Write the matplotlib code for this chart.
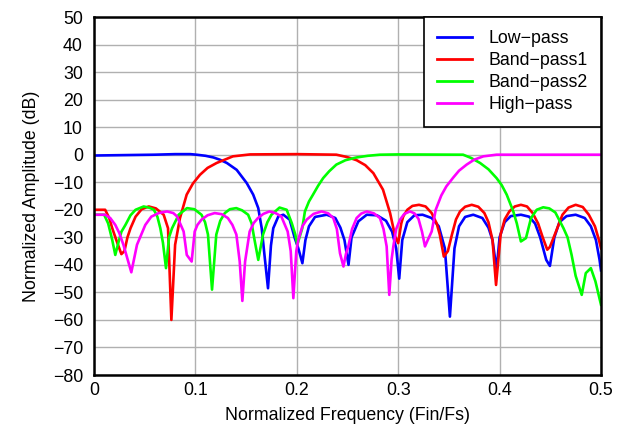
import matplotlib
matplotlib.use("Agg")
import matplotlib.pyplot as plt

plt.rcParams['font.family'] = ['Liberation Sans', 'DejaVu Sans']
plt.rcParams['axes.unicode_minus'] = True

# ---- data ----
low_x = [0, 0.02, 0.04, 0.06, 0.08, 0.095, 0.101, 0.11, 0.1177, 0.124, 0.131, 0.1407, 0.1506,
         0.157, 0.162, 0.1654, 0.168, 0.1716, 0.1745, 0.1768, 0.1818, 0.1867, 0.193, 0.198,
         0.2015, 0.2055, 0.2085, 0.212, 0.218, 0.2295, 0.238, 0.243, 0.247, 0.251, 0.254,
         0.2607, 0.269, 0.279, 0.288, 0.294, 0.298, 0.301, 0.304, 0.309, 0.316, 0.324, 0.333,
         0.340, 0.346, 0.351, 0.3555, 0.360, 0.366, 0.374, 0.383, 0.389, 0.393, 0.397, 0.400,
         0.405, 0.411, 0.421, 0.429, 0.435, 0.440, 0.446, 0.4496, 0.454, 0.459, 0.466, 0.475,
         0.484, 0.490, 0.495, 0.4985, 0.5]
low_y = [-0.3, -0.2, -0.1, 0.0, 0.2, 0.2, 0.0, -0.4, -1.0, -1.8, -3.0, -5.5, -10.3,
         -14.5, -19.4, -26.7, -36.0, -48.5, -33.0, -26.7, -22.4, -21.8, -23.6, -30.3,
         -34.0, -39.4, -31.0, -26.0, -22.6, -21.8, -23.0, -26.5, -31.0, -40.0, -30.0,
         -24.2, -21.8, -22.0, -24.0, -28.0, -34.0, -45.0, -31.0, -24.5, -22.0, -21.8, -23.0,
         -26.0, -34.0, -58.8, -34.0, -26.0, -22.6, -21.8, -23.0, -26.5, -31.0, -41.8, -30.0,
         -24.5, -22.3, -21.8, -22.5, -25.0, -30.0, -38.2, -40.4, -30.0, -24.5, -22.3, -21.8,
         -23.0, -26.0, -31.0, -38.0, -42.0]

bp1_x = [0, 0.011, 0.015, 0.018, 0.022, 0.027, 0.030, 0.033, 0.036, 0.041, 0.047, 0.054,
         0.061, 0.0687, 0.073, 0.0763, 0.080, 0.0848, 0.0914, 0.0975, 0.1045, 0.112, 0.121,
         0.137, 0.154, 0.2, 0.239, 0.249, 0.259, 0.2675, 0.2755, 0.285, 0.292, 0.297, 0.300,
         0.303, 0.305, 0.309, 0.314, 0.3205, 0.327, 0.333, 0.338, 0.341, 0.345, 0.349, 0.353,
         0.357, 0.361, 0.366, 0.3725, 0.379, 0.385, 0.389, 0.393, 0.3965, 0.401, 0.405,
         0.4096, 0.415, 0.421, 0.427, 0.4326, 0.438, 0.4425, 0.447, 0.4496, 0.4556, 0.462,
         0.468, 0.475, 0.482, 0.488, 0.494, 0.498, 0.5]
bp1_y = [-20.0, -20.0, -23.0, -26.7, -31.0, -36.1, -35.0, -30.0, -26.7, -22.5, -19.8, -18.8,
         -19.5, -21.8, -26.7, -60.0, -32.7, -23.0, -14.5, -10.5, -7.3, -4.8, -3.0,
         -0.6, 0.1, 0.2, 0.0, -0.8, -2.0, -3.8, -6.7, -12.7, -21.2, -29.7, -32.1,
         -25.0, -22.4, -20.0, -18.6, -18.2, -18.8, -21.2, -25.0, -29.0, -37.0, -35.0, -29.0,
         -23.5, -20.6, -18.9, -18.2, -18.9, -21.2, -24.5, -31.0, -47.3, -29.0, -23.5,
         -20.6, -18.8, -18.2, -18.8, -21.2, -25.0, -30.0, -34.5, -33.5, -27.9, -21.8,
         -19.2, -18.2, -19.0, -21.8, -26.0, -31.0, -34.0]

bp2_x = [0, 0.01, 0.014, 0.018, 0.021, 0.024, 0.027, 0.031, 0.036, 0.041, 0.049, 0.055,
         0.059, 0.0625, 0.0654, 0.068, 0.071, 0.074, 0.077, 0.0835, 0.0917, 0.099, 0.106,
         0.1095, 0.1124, 0.1164, 0.1206, 0.1245, 0.129, 0.134, 0.1403, 0.146, 0.152, 0.1555,
         0.158, 0.162, 0.1667, 0.171, 0.175, 0.183, 0.19, 0.195, 0.1985, 0.2005, 0.2054,
         0.208, 0.212, 0.216, 0.221, 0.226, 0.232, 0.239, 0.248, 0.259, 0.27, 0.282, 0.3,
         0.364, 0.372, 0.3807, 0.389, 0.397, 0.402, 0.407, 0.4135, 0.417, 0.421, 0.426, 0.431,
         0.4366, 0.443, 0.449, 0.455, 0.463, 0.467, 0.471, 0.475, 0.481, 0.485, 0.49, 0.4945,
         0.5]
bp2_y = [-21.8, -21.8, -25.0, -31.0, -36.4, -32.0, -28.0, -25.5, -22.0, -20.0, -18.8, -19.3,
         -20.0, -22.5, -26.7, -32.0, -41.2, -30.0, -26.7, -21.8, -19.4, -19.8, -21.8,
         -24.5, -29.0, -49.0, -29.0, -24.0, -21.2, -19.8, -19.4, -20.2, -21.8, -25.0,
         -30.3, -38.2, -29.0, -24.5, -21.8, -19.2, -20.0, -24.8, -29.0, -32.7, -26.7,
         -20.6, -17.0, -14.5, -11.3, -8.5, -6.0, -3.6, -2.0, -1.0, -0.4, 0.0, 0.1,
         0.0, -1.2, -3.0, -5.3, -8.5, -11.0, -14.5, -20.6, -25.0, -31.5, -30.3, -23.0,
         -20.0, -19.1, -19.5, -21.0, -26.7, -30.0, -36.4, -44.0, -50.9, -43.0, -41.2, -46.0,
         -54.5]

hp_x = [0, 0.011, 0.016, 0.021, 0.025, 0.029, 0.0368, 0.0424, 0.0506, 0.0565, 0.0638, 0.072,
        0.0782, 0.0819, 0.0884, 0.0915, 0.0963, 0.0993, 0.102, 0.106, 0.112, 0.119, 0.126,
        0.132, 0.1365, 0.1404, 0.1437, 0.1463, 0.149, 0.1535, 0.1575, 0.1617, 0.167, 0.173,
        0.179, 0.1847, 0.191, 0.194, 0.1966, 0.1995, 0.2015, 0.2055, 0.2097, 0.2165, 0.2245,
        0.231, 0.236, 0.2395, 0.2426, 0.246, 0.2485, 0.2508, 0.2545, 0.259, 0.2635, 0.269,
        0.276, 0.282, 0.2855, 0.2886, 0.2912, 0.2935, 0.2952, 0.298, 0.3018, 0.306, 0.3116,
        0.316, 0.32, 0.3235, 0.3264, 0.33, 0.333, 0.337, 0.3425, 0.3475, 0.3543, 0.36, 0.3675,
        0.375, 0.384, 0.397, 0.45, 0.5]
hp_y = [-21.8, -21.8, -23.0, -25.5, -28.5, -32.7, -42.7, -32.7, -25.5, -22.5, -21.2, -20.6,
        -21.2, -22.4, -27.9, -36.4, -38.8, -27.9, -25.5, -23.6, -22.0, -21.2, -21.6,
        -23.0, -25.5, -29.0, -38.8, -53.1, -38.8, -27.9, -24.8, -23.0, -21.5, -20.6,
        -21.2, -22.4, -27.9, -35.0, -52.1, -35.0, -30.9, -26.0, -23.6, -21.5, -20.6,
        -21.3, -23.0, -27.0, -35.8, -40.6, -36.0, -33.3, -27.0, -23.0, -21.4, -20.6,
        -21.3, -23.0, -27.0, -33.3, -50.9, -38.0, -33.3, -27.0, -23.6, -21.5, -20.6,
        -21.3, -23.3, -28.0, -33.3, -30.3, -27.9, -20.0, -14.8, -11.5, -8.3, -5.8, -3.6,
        -1.8, -0.6, 0.0, 0.0, 0.0]

series_labels = ['Low\u2212pass', 'Band\u2212pass1', 'Band\u2212pass2', 'High\u2212pass']
series_colors = ['#0000ff', '#ff0000', '#00ff00', '#ff00ff']
x_ticks = [0, 0.1, 0.2, 0.3, 0.4, 0.5]
x_tick_labels = ['0', '0.1', '0.2', '0.3', '0.4', '0.5']
y_ticks = list(range(-80, 51, 10))

# ---- figure ----
fig = plt.figure(figsize=(6.23, 4.33), dpi=100)
ax = fig.add_axes([94 / 623, 1 - 375 / 433, (601 - 94) / 623, (375 - 17) / 433])

data = [(low_x, low_y), (bp1_x, bp1_y), (bp2_x, bp2_y), (hp_x, hp_y)]
for (xs, ys), lab, col in zip(data, series_labels, series_colors):
    ax.plot(xs, ys, color=col, lw=1.9, label=lab)

ax.set_xlim(0, 0.5)
ax.set_ylim(-80, 50)
ax.set_xticks(x_ticks)
ax.set_xticklabels(x_tick_labels)
ax.set_yticks(y_ticks)
ax.grid(True, color='#b0b0b0', lw=1.0)
ax.set_axisbelow(True)
for s in ax.spines.values():
    s.set_linewidth(1.8)
    s.set_color('black')
ax.tick_params(length=0, labelsize=12.8, colors='black')
ax.tick_params(axis='y', pad=8)
ax.tick_params(axis='x', pad=5)
ax.set_xlabel('Normalized Frequency (Fin/Fs)', fontsize=12.8, labelpad=6)
ax.set_ylabel('Normalized Amplitude (dB)', fontsize=12.8, labelpad=9)

leg = ax.legend(loc='upper right', borderaxespad=0, fontsize=12.8, handlelength=2.0,
                handletextpad=0.9, labelspacing=0.28, borderpad=0.75, fancybox=False,
                framealpha=1, edgecolor='black')
leg.get_frame().set_linewidth(1.2)
for h in leg.get_lines():
    h.set_linewidth(2)

fig.savefig('out.png', dpi=100)
